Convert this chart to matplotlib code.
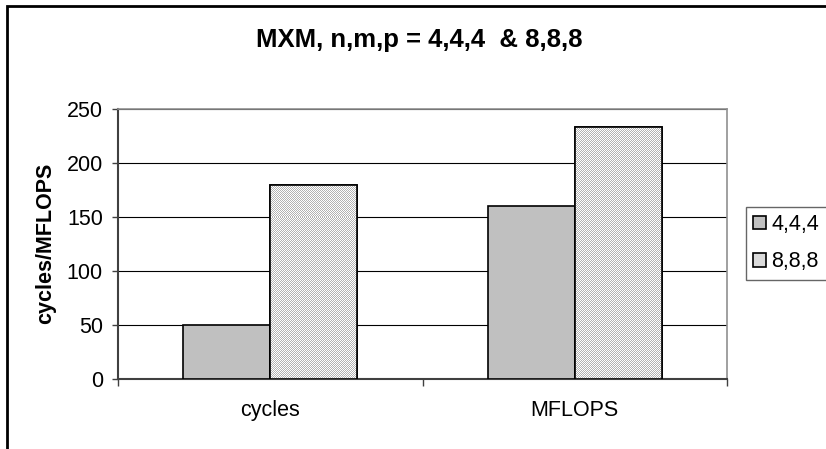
import numpy as np
import matplotlib
matplotlib.use("Agg")
import matplotlib.pyplot as plt
from matplotlib.patches import Rectangle

plt.rcParams['font.family'] = ['Liberation Sans', 'DejaVu Sans']

categories = ["cycles", "MFLOPS"]
series_names = ["4,4,4", "8,8,8"]
values_444 = [50, 160]
values_888 = [180, 233]
y_ticks = [0, 50, 100, 150, 200, 250]
title = "MXM, n,m,p = 4,4,4  & 8,8,8"
y_label = "cycles/MFLOPS"

W, H = 826, 449
fig = plt.figure(figsize=(W / 100, H / 100), dpi=100)
ax = fig.add_axes([118 / W, 1 - 378.7 / H, (727 - 118) / W, (378.7 - 109) / H])

x = np.arange(len(categories))
bw = 1 / 3.5
b1 = ax.bar(x - bw / 2, values_444, bw, color="#C0C0C0", edgecolor="black",
            linewidth=1.2, label=series_names[0], zorder=3)
b2 = ax.bar(x + bw / 2, values_888, bw, color="#DADADA", edgecolor="black",
            linewidth=1.2, label=series_names[1], zorder=3)

ax.set_xlim(-0.5, len(categories) - 0.5)
ax.set_ylim(0, 250)

# checkerboard texture for the 8,8,8 bars
ny, nx = 270, 609
yy, xx = np.mgrid[0:ny, 0:nx]
cb = np.where((xx + yy) % 2 == 0, 0.70, 1.0)
for p in b2.patches:
    im = ax.imshow(cb, cmap="gray", vmin=0, vmax=1, extent=(-0.5, 1.5, 0, 250),
                   aspect="auto", interpolation="nearest", zorder=3.5)
    im.set_clip_path(p)
for p in b2.patches:
    r = Rectangle(p.get_xy(), p.get_width(), p.get_height(), fill=False,
                  edgecolor="black", linewidth=1.2, zorder=4)
    ax.add_patch(r)

FS = 15.5
ax.set_yticks(y_ticks)
ax.set_yticklabels([str(v) for v in y_ticks], fontsize=FS)
ax.yaxis.grid(True, color="black", linewidth=0.8, zorder=0)
ax.set_axisbelow(True)

ax.set_xticks(x)
ax.set_xticklabels(categories, fontsize=FS)
ax.tick_params(axis="x", length=0, pad=15)
ax.set_xticks([-0.5, 0.5, 1.5], minor=True)
ax.tick_params(axis="x", which="minor", length=5, width=1, color="#404040", direction="out")
ax.tick_params(axis="y", length=4.3, width=1, color="#404040", direction="out", pad=6.5)

for s in ["top", "right"]:
    ax.spines[s].set_color("#909090")
    ax.spines[s].set_linewidth(1.2)
for s in ["left", "bottom"]:
    ax.spines[s].set_color("#404040")
    ax.spines[s].set_linewidth(1.5)

fig.text(419 / W, 1 - 40 / H, title, ha="center", va="center",
         fontsize=18.5, fontweight="bold")
fig.text(46 / W, 1 - 243 / H, y_label, ha="center", va="center",
         rotation=90, fontsize=FS, fontweight="bold")

leg = fig.legend(handles=[b1, b2], labels=series_names, loc="upper left",
                 bbox_to_anchor=(745.7 / W, 1 - 206.7 / H), fontsize=FS,
                 frameon=True, fancybox=False, borderaxespad=0,
                 handlelength=0.6, handleheight=0.6, handletextpad=0.25,
                 borderpad=0.35, labelspacing=0.75)
leg.get_frame().set_edgecolor("#404040")
leg.get_frame().set_linewidth(1.0)

# outer chart border (cropped at right and bottom)
border = Rectangle((7 / W, -0.1), 1.2, 1 - 6 / H + 0.1, transform=fig.transFigure,
                   fill=False, edgecolor="black", linewidth=2, clip_on=False)
fig.add_artist(border)

fig.savefig("out.png", dpi=100)
